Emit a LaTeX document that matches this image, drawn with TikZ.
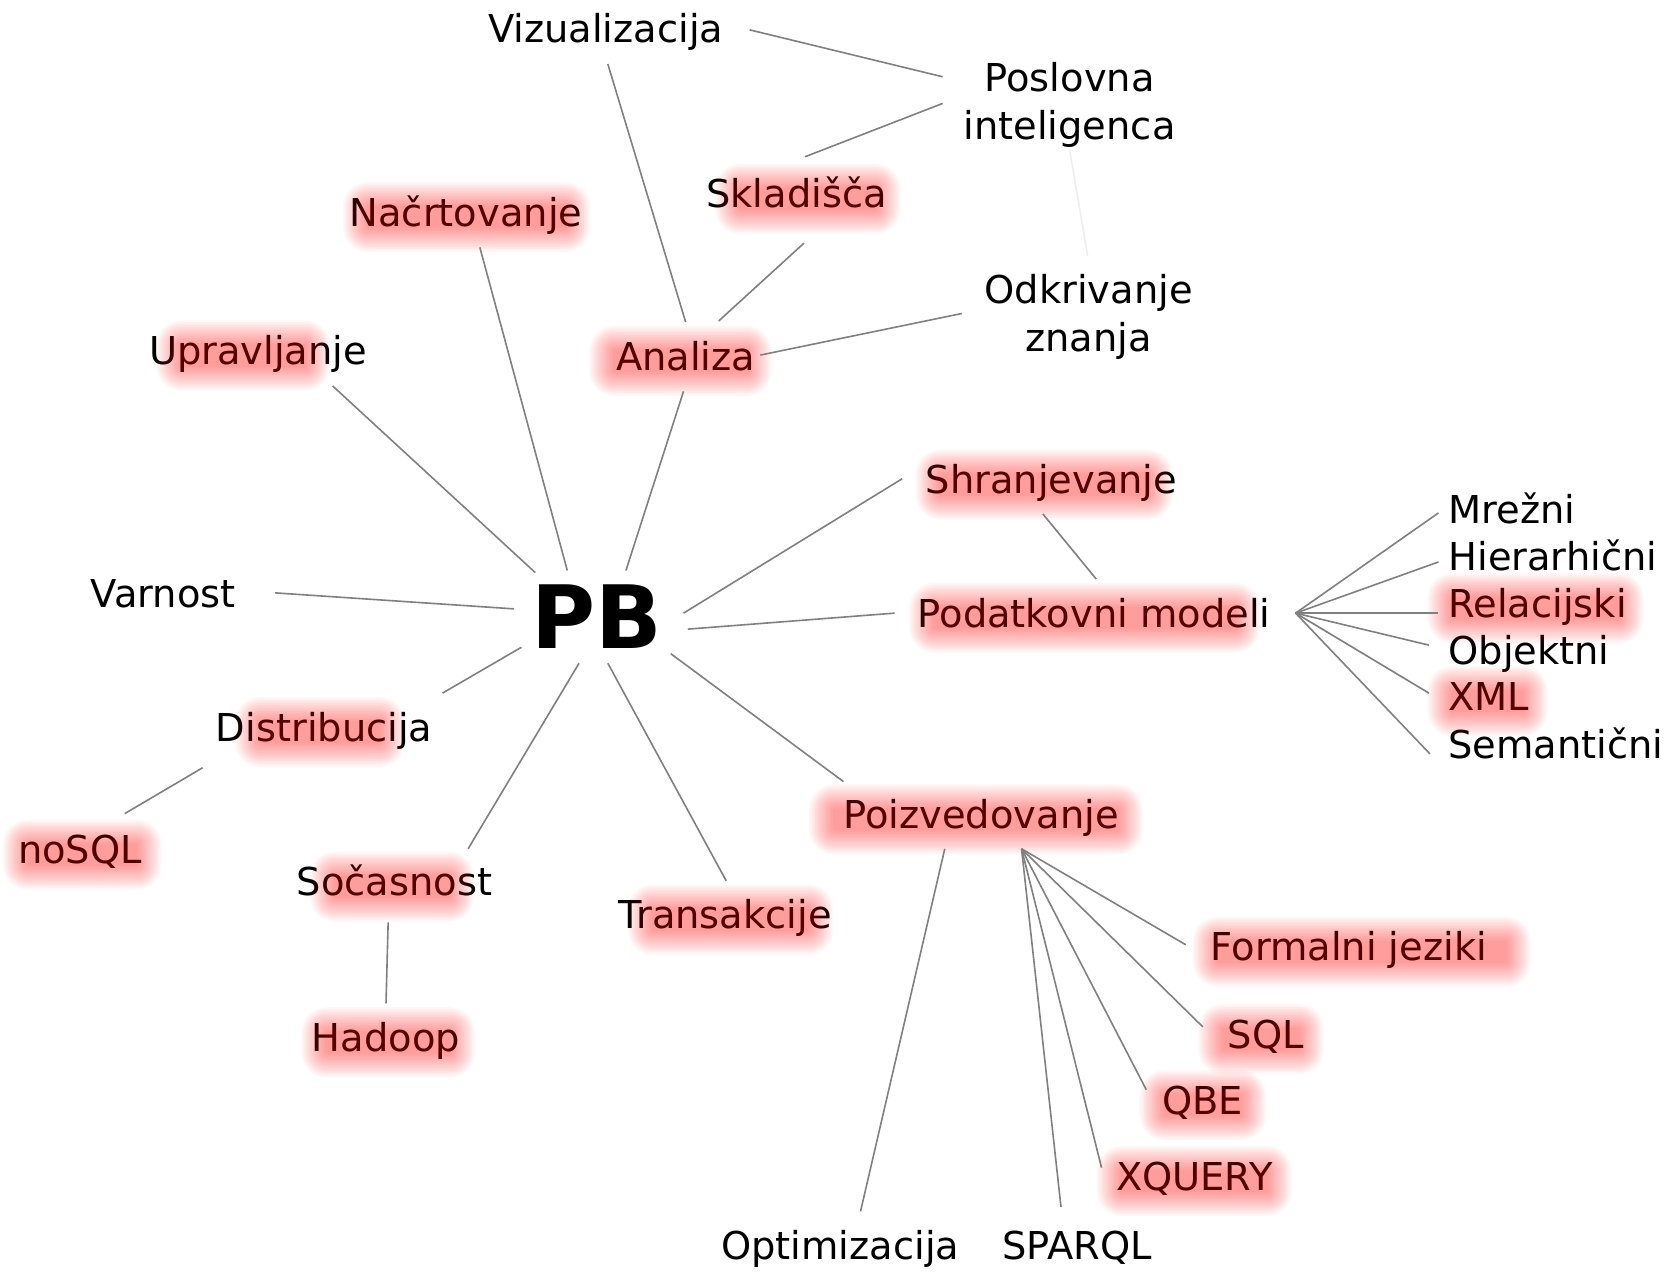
\documentclass[tikz,border=0pt]{standalone}
\usepackage{fontspec}
\setmainfont{DejaVu Sans}
\usetikzlibrary{calc}
\definecolor{linegray}{HTML}{808080}
\definecolor{faintgray}{HTML}{EEEEEE}
\tikzset{
  lbl/.style={inner sep=0pt, anchor=base, font=\fontsize{18}{22.5}\selectfont, align=center},
  lblw/.style={lbl, anchor=base west, align=left},
  conn/.style={draw=linegray, line width=0.75pt},
}
\newcommand\glowbox[4]{%
  \foreach \r [evaluate=\r as \rc using \r*0.5] in {1,2.5,...,24}{
    \fill[red, opacity=0.028, rounded corners=\rc pt] (#1-\r,#3-\r) rectangle (#2+\r,#4+\r);
  }%
}
\newcommand\link[4]{\draw[conn] ($(#1)+(#2)$) -- ($(#3)+(#4)$);}
\begin{document}
\begin{tikzpicture}[x=0.5pt,y=-0.5pt]
\fill[white] (0,0) rectangle (1568,1192);
\useasboundingbox (0,0) rectangle (1568,1192);
% nodes
\node[lbl] (viz) at (568,40) {Vizualizacija};
\node[lbl] (pos) at (1003,131) {Poslovna\\inteligenca};
\node[lbl] (sklad) at (747,195) {Skladišča};
\node[lbl] (nacrt) at (437,212) {Načrtovanje};
\node[lbl] (odkr) at (1021,330) {Odkrivanje\\znanja};
\node[lbl] (uprav) at (242,342) {Upravljanje};
\node[lbl] (anal) at (643,347) {Analiza};
\node[lbl] (shran) at (986,463) {Shranjevanje};
\node[lbl] (varn) at (153,570) {Varnost};
\node[inner sep=0pt, anchor=base, font=\fontsize{41}{41}\selectfont\bfseries] (pb) at (560,608) {PB};
\node[lbl] (podat) at (1026,588) {Podatkovni modeli};
\node[lblw] (mrez) at (1358,491) {Mrežni};
\node[lblw] (hier) at (1358,535) {Hierarhični};
\node[lblw] (rel) at (1358,579) {Relacijski};
\node[lblw] (obj) at (1358,623) {Objektni};
\node[lblw] (xml) at (1358,666) {XML};
\node[lblw] (sem) at (1358,711) {Semantični};
\node[lbl] (distr) at (304,695) {Distribucija};
\node[lbl] (nosql) at (75,810) {noSQL};
\node[lbl] (poizv) at (920,777) {Poizvedovanje};
\node[lbl] (socas) at (370,840) {Sočasnost};
\node[lbl] (trans) at (680,871) {Transakcije};
\node[lbl] (formal) at (1265,901) {Formalni jeziki};
\node[lbl] (hadoop) at (362,986) {Hadoop};
\node[lbl] (sql) at (1187,983) {SQL};
\node[lbl] (qbe) at (1128,1045) {QBE};
\node[lbl] (xq) at (1120,1116) {XQUERY};
\node[lbl] (optim) at (788,1181) {Optimizacija};
\node[lbl] (sparql) at (1010,1181) {SPARQL};
% glows
\glowbox{345}{530}{194}{213}
\glowbox{694}{821}{177}{196}
\glowbox{170}{286}{324}{343}
\glowbox{576}{700}{329}{348}
\glowbox{882}{1076}{445}{464}
\glowbox{876}{1158}{570}{589}
\glowbox{1362}{1518}{561}{580}
\glowbox{1362}{1428}{648}{667}
\glowbox{244}{356}{677}{696}
\glowbox{26}{128}{792}{811}
\glowbox{314}{421}{822}{841}
\glowbox{306}{422}{968}{987}
\glowbox{782}{1048}{759}{778}
\glowbox{612}{758}{853}{872}
\glowbox{1142}{1412}{883}{902}
\glowbox{1147}{1218}{965}{984}
\glowbox{1092}{1164}{1027}{1046}
\glowbox{1052}{1188}{1098}{1117}
% connectors
\link{viz.base}{135,-12}{pos.base}{-119,-59}
\link{pos.base}{-119,-34}{sklad.base}{8,-48}
\draw[draw=faintgray, line width=0.75pt] ($(pos.base)+(0,9)$) -- ($(odkr.base)+(-1,-90)$);
\link{viz.base}{2,20}{anal.base}{0,-45}
\link{sklad.base}{7,33}{anal.base}{31,-46}
\link{odkr.base}{-119,-36}{anal.base}{70,-14}
\link{anal.base}{-2,20}{pb.base}{27,-73}
\link{nacrt.base}{13,20}{pb.base}{-28,-73}
\link{uprav.base}{70,20}{pb.base}{-58,-71}
\link{varn.base}{105,-14}{pb.base}{-78,-37}
\link{pb.base}{81,-33}{shran.base}{-140,-14}
\link{pb.base}{85,-18}{podat.base}{-187,-13}
\link{shran.base}{-8,19}{podat.base}{2,-45}
\link{pb.base}{-71,-1}{distr.base}{111,-45}
\link{distr.base}{-114,25}{nosql.base}{42,-47}
\link{pb.base}{-17,14}{socas.base}{69,-44}
\link{pb.base}{10,14}{trans.base}{1,-45}
\link{pb.base}{69,5}{poizv.base}{-129,-44}
\link{socas.base}{-6,25}{hadoop.base}{0,-45}
\link{podat.base}{189,-13}{mrez.base west}{-9,-10}
\link{podat.base}{189,-13}{hier.base west}{-9,-8}
\link{podat.base}{189,-13}{rel.base west}{-9,-4}
\link{podat.base}{189,-13}{obj.base west}{-18,-18}
\link{podat.base}{189,-13}{xml.base west}{-18,-16}
\link{podat.base}{189,-13}{sem.base west}{-17,-4}
\link{poizv.base}{-34,19}{optim.base}{19,-45}
\link{poizv.base}{38,19}{formal.base}{-153,-15}
\link{poizv.base}{38,19}{sql.base}{-59,-20}
\link{poizv.base}{38,19}{qbe.base}{-53,-23}
\link{poizv.base}{38,19}{xq.base}{-87,-21}
\link{poizv.base}{38,19}{sparql.base}{-15,-49}
\end{tikzpicture}
\end{document}
